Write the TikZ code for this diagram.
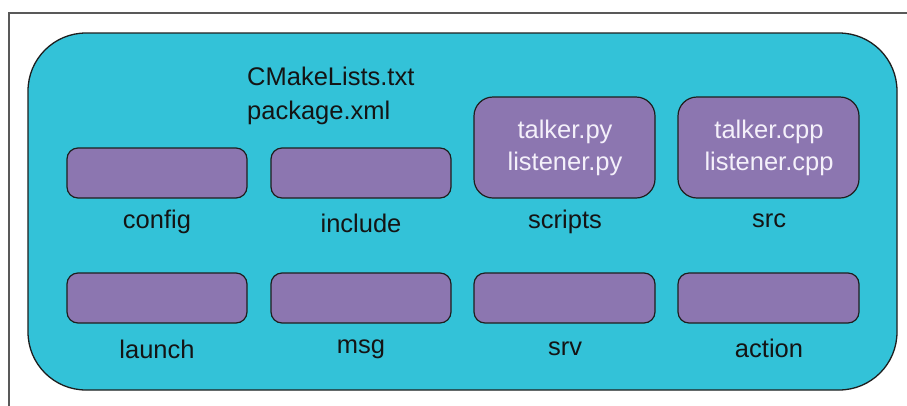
\documentclass[tikz,border=0pt]{standalone}
\usepackage{fontspec}
\setmainfont{Liberation Sans}
\definecolor{pkgcyan}{RGB}{51,194,216}
\definecolor{dirpurple}{RGB}{140,118,176}
\definecolor{edgedark}{RGB}{30,30,30}
\definecolor{textdark}{RGB}{20,20,20}
\definecolor{textlight}{RGB}{244,240,250}
\tikzset{
  frameline/.style={draw=black!65, line width=1.4pt},
  pkgbox/.style={draw=edgedark, fill=pkgcyan, line width=1.3pt, rounded corners=58pt},
  dirbox/.style={draw=edgedark, fill=dirpurple, line width=1.2pt, rounded corners=11pt},
  filebox/.style={draw=edgedark, fill=dirpurple, line width=1.2pt, rounded corners=19pt},
  lbl/.style={font=\fontsize{25.5}{30}\selectfont, text=textdark, inner sep=0pt},
  files/.style={font=\fontsize{25.5}{32}\selectfont, text=textlight, align=center, inner sep=0pt},
  toplist/.style={font=\fontsize{25.5}{34}\selectfont, text=textdark, align=left, inner sep=0pt, anchor=north west}
}
\begin{document}
\begin{tikzpicture}[x=1pt,y=-1pt]
  \useasboundingbox (0,0) rectangle (907,405);
  % outer frame (only top and left edges fall inside the page)
  \draw[frameline] (9,406) -- (9,13) -- (908,13);
  % package area
  \draw[pkgbox] (28,33) rectangle (897,390);
  % top-level files
  \node[toplist] (topfiles) at (247,67) {CMakeLists.txt\\package.xml};
  % first row of folders
  \draw[dirbox] (67,148) rectangle (247,198);
  \node[lbl] (config) at (157,222) {config};
  \draw[dirbox] (271,148) rectangle (451,198);
  \node[lbl] (include) at (361,223) {include};
  \draw[filebox] (474,97) rectangle (655,198);
  \node[files] (pyfiles) at (565,148) {talker.py\\listener.py};
  \node[lbl] (scripts) at (565,222) {scripts};
  \draw[filebox] (678,97) rectangle (859,198);
  \node[files] (cppfiles) at (769,148) {talker.cpp\\listener.cpp};
  \node[lbl] (src) at (769,221) {src};
  % second row of folders
  \draw[dirbox] (67,273) rectangle (247,323);
  \node[lbl] (launch) at (157,349) {launch};
  \draw[dirbox] (271,273) rectangle (451,323);
  \node[lbl] (msg) at (361,349) {msg};
  \draw[dirbox] (474,273) rectangle (655,323);
  \node[lbl] (srv) at (565,349) {srv};
  \draw[dirbox] (678,273) rectangle (859,323);
  \node[lbl] (action) at (769,348) {action};
\end{tikzpicture}
\end{document}
